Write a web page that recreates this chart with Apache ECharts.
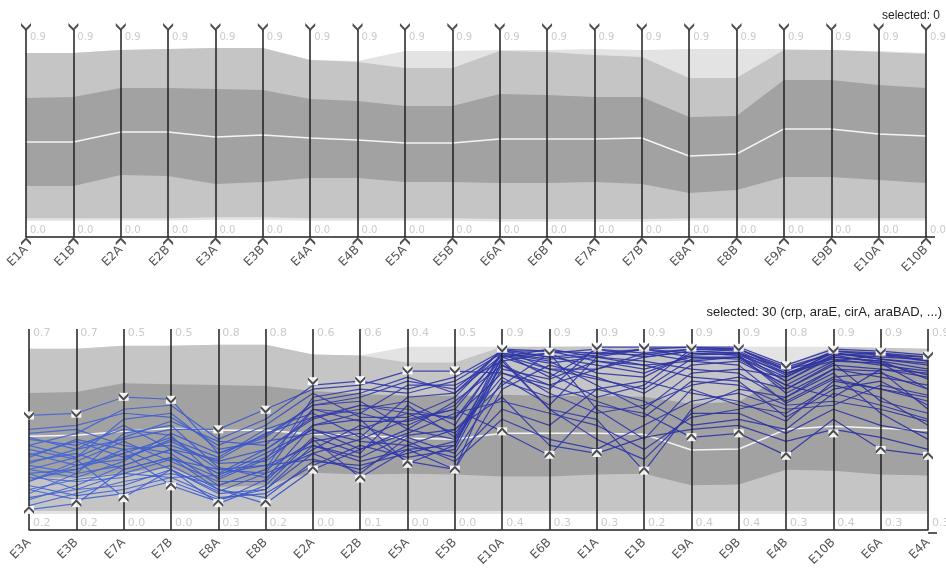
<!DOCTYPE html>
<html>
<head>
<meta charset="utf-8">
<title>Parallel coordinates - quantile bands</title>
<script src="https://cdn.jsdelivr.net/npm/echarts@6/dist/echarts.min.js"></script>
<style>
html, body { margin: 0; padding: 0; background: #fff; }
#chart { width: 946px; height: 569px; }
</style>
</head>
<body>
<div id="chart"></div>
<script>
// ---- top panel (nothing selected) ----
const topAxes = ['E1A', 'E1B', 'E2A', 'E2B', 'E3A', 'E3B', 'E4A', 'E4B', 'E5A', 'E5B',
  'E6A', 'E6B', 'E7A', 'E7B', 'E8A', 'E8B', 'E9A', 'E9B', 'E10A', 'E10B'];
const topMax = [0.889, 0.889, 0.903, 0.908, 0.913, 0.913, 0.855, 0.850, 0.899, 0.899,
  0.903, 0.903, 0.908, 0.903, 0.908, 0.908, 0.908, 0.903, 0.899, 0.889];
const topP90 = [0.889, 0.889, 0.903, 0.908, 0.913, 0.913, 0.855, 0.845, 0.816, 0.816,
  0.899, 0.894, 0.879, 0.870, 0.768, 0.768, 0.903, 0.903, 0.894, 0.884];
const topP75 = [0.671, 0.676, 0.720, 0.720, 0.715, 0.710, 0.667, 0.657, 0.633, 0.633,
  0.691, 0.686, 0.676, 0.676, 0.580, 0.585, 0.758, 0.758, 0.734, 0.720];
const topMedian = [0.459, 0.459, 0.507, 0.507, 0.483, 0.493, 0.478, 0.469, 0.454, 0.454,
  0.473, 0.473, 0.473, 0.478, 0.391, 0.401, 0.522, 0.522, 0.498, 0.488];
const topP25 = [0.246, 0.246, 0.300, 0.295, 0.256, 0.266, 0.285, 0.285, 0.266, 0.266,
  0.261, 0.261, 0.266, 0.256, 0.213, 0.227, 0.290, 0.290, 0.275, 0.261];
const topP10 = [0.090, 0.090, 0.090, 0.090, 0.095, 0.095, 0.090, 0.090, 0.090, 0.090,
  0.087, 0.087, 0.087, 0.087, 0.090, 0.090, 0.090, 0.090, 0.090, 0.090];
const topMin = [0.078, 0.078, 0.080, 0.080, 0.082, 0.082, 0.078, 0.078, 0.078, 0.078,
  0.075, 0.075, 0.075, 0.075, 0.078, 0.078, 0.078, 0.078, 0.078, 0.078];
const topHiLabels = ['0.9', '0.9', '0.9', '0.9', '0.9', '0.9', '0.9', '0.9', '0.9', '0.9',
  '0.9', '0.9', '0.9', '0.9', '0.9', '0.9', '0.9', '0.9', '0.9', '0.9'];
const topLoLabels = ['0.0', '0.0', '0.0', '0.0', '0.0', '0.0', '0.0', '0.0', '0.0', '0.0',
  '0.0', '0.0', '0.0', '0.0', '0.0', '0.0', '0.0', '0.0', '0.0', '0.0'];

// ---- bottom panel (30 selected) ----
const botAxes = ['E3A', 'E3B', 'E7A', 'E7B', 'E8A', 'E8B', 'E2A', 'E2B', 'E5A', 'E5B',
  'E10A', 'E6B', 'E1A', 'E1B', 'E9A', 'E9B', 'E4B', 'E10B', 'E6A', 'E4A'];
const botMax = [0.902, 0.902, 0.917, 0.917, 0.922, 0.922, 0.873, 0.868, 0.912, 0.912,
  0.912, 0.912, 0.917, 0.912, 0.912, 0.912, 0.912, 0.912, 0.907, 0.902];
const botP90 = [0.902, 0.902, 0.917, 0.917, 0.922, 0.922, 0.873, 0.868, 0.833, 0.833,
  0.912, 0.912, 0.912, 0.912, 0.912, 0.912, 0.819, 0.912, 0.907, 0.902];
const botP75 = [0.681, 0.686, 0.730, 0.725, 0.721, 0.716, 0.691, 0.676, 0.667, 0.667,
  0.672, 0.667, 0.667, 0.662, 0.627, 0.637, 0.775, 0.897, 0.887, 0.868];
const botMedian = [0.466, 0.471, 0.490, 0.505, 0.495, 0.495, 0.475, 0.471, 0.456, 0.451,
  0.480, 0.480, 0.480, 0.475, 0.397, 0.402, 0.500, 0.515, 0.505, 0.495];
const botP25 = [0.260, 0.260, 0.284, 0.309, 0.211, 0.221, 0.284, 0.275, 0.279, 0.275,
  0.265, 0.265, 0.275, 0.279, 0.221, 0.225, 0.299, 0.294, 0.275, 0.270];
const botP10 = [0.093, 0.093, 0.093, 0.093, 0.093, 0.093, 0.093, 0.093, 0.093, 0.093,
  0.093, 0.093, 0.093, 0.093, 0.093, 0.093, 0.093, 0.093, 0.093, 0.093];
const botMin = [0.078, 0.078, 0.078, 0.078, 0.078, 0.078, 0.078, 0.078, 0.078, 0.078,
  0.078, 0.078, 0.078, 0.078, 0.078, 0.078, 0.078, 0.078, 0.078, 0.078];
const brushHi = [0.569, 0.578, 0.662, 0.647, 0.500, 0.598, 0.740, 0.745, 0.794, 0.794,
  0.902, 0.887, 0.912, 0.912, 0.907, 0.907, 0.819, 0.897, 0.887, 0.868];
const brushLo = [0.098, 0.132, 0.157, 0.216, 0.132, 0.132, 0.299, 0.255, 0.328, 0.299,
  0.490, 0.373, 0.382, 0.294, 0.461, 0.480, 0.368, 0.480, 0.397, 0.368];
const botHiLabels = ['0.7', '0.7', '0.5', '0.5', '0.8', '0.8', '0.6', '0.6', '0.4', '0.5',
  '0.9', '0.9', '0.9', '0.9', '0.9', '0.9', '0.8', '0.9', '0.9', '0.9'];
const botLoLabels = ['0.2', '0.2', '0.0', '0.0', '0.3', '0.2', '0.0', '0.1', '0.0', '0.0',
  '0.4', '0.3', '0.3', '0.2', '0.4', '0.4', '0.3', '0.4', '0.3', '0.3'];

// selected profiles, one row per gene, columns in botAxes order
const selected = [
  [0.57, 0.58, 0.66, 0.65, 0.38, 0.47, 0.62, 0.66, 0.74, 0.70, 0.89, 0.86, 0.88, 0.87, 0.90, 0.90, 0.80, 0.88, 0.85, 0.82],
  [0.10, 0.13, 0.30, 0.36, 0.20, 0.13, 0.30, 0.40, 0.50, 0.45, 0.82, 0.72, 0.80, 0.86, 0.89, 0.88, 0.74, 0.87, 0.83, 0.70],
  [0.40, 0.35, 0.16, 0.30, 0.13, 0.22, 0.45, 0.26, 0.40, 0.30, 0.85, 0.60, 0.55, 0.29, 0.60, 0.70, 0.66, 0.80, 0.79, 0.60],
  [0.25, 0.30, 0.38, 0.22, 0.14, 0.25, 0.52, 0.55, 0.33, 0.42, 0.90, 0.89, 0.84, 0.80, 0.86, 0.85, 0.72, 0.84, 0.87, 0.84],
  [0.33, 0.40, 0.45, 0.50, 0.50, 0.60, 0.70, 0.72, 0.79, 0.79, 0.78, 0.70, 0.91, 0.91, 0.91, 0.91, 0.82, 0.90, 0.89, 0.87],
  [0.20, 0.25, 0.28, 0.35, 0.30, 0.28, 0.38, 0.45, 0.55, 0.60, 0.49, 0.37, 0.62, 0.58, 0.46, 0.48, 0.37, 0.55, 0.40, 0.37],
  [0.45, 0.42, 0.50, 0.47, 0.25, 0.35, 0.60, 0.58, 0.52, 0.62, 0.87, 0.80, 0.75, 0.70, 0.85, 0.86, 0.70, 0.82, 0.80, 0.78],
  [0.28, 0.20, 0.22, 0.30, 0.18, 0.20, 0.42, 0.36, 0.47, 0.50, 0.72, 0.88, 0.90, 0.88, 0.84, 0.82, 0.63, 0.75, 0.70, 0.64],
  [0.36, 0.45, 0.40, 0.42, 0.34, 0.40, 0.55, 0.62, 0.60, 0.55, 0.86, 0.78, 0.66, 0.72, 0.90, 0.89, 0.78, 0.86, 0.84, 0.75],
  [0.15, 0.22, 0.32, 0.40, 0.28, 0.32, 0.35, 0.30, 0.42, 0.36, 0.60, 0.52, 0.70, 0.64, 0.52, 0.55, 0.50, 0.68, 0.62, 0.55],
  [0.48, 0.50, 0.42, 0.38, 0.22, 0.30, 0.66, 0.70, 0.68, 0.74, 0.88, 0.84, 0.72, 0.60, 0.78, 0.80, 0.76, 0.89, 0.88, 0.86],
  [0.30, 0.36, 0.55, 0.58, 0.40, 0.44, 0.48, 0.50, 0.58, 0.48, 0.76, 0.62, 0.86, 0.90, 0.88, 0.87, 0.68, 0.80, 0.76, 0.72],
  [0.22, 0.17, 0.20, 0.26, 0.16, 0.18, 0.32, 0.42, 0.36, 0.40, 0.84, 0.88, 0.60, 0.45, 0.70, 0.62, 0.58, 0.72, 0.66, 0.52],
  [0.38, 0.32, 0.35, 0.45, 0.36, 0.50, 0.58, 0.46, 0.66, 0.68, 0.90, 0.86, 0.82, 0.78, 0.87, 0.88, 0.80, 0.85, 0.82, 0.79],
  [0.18, 0.28, 0.48, 0.52, 0.31, 0.26, 0.40, 0.52, 0.44, 0.34, 0.55, 0.45, 0.40, 0.52, 0.64, 0.68, 0.60, 0.62, 0.72, 0.67],
  [0.42, 0.48, 0.60, 0.62, 0.45, 0.55, 0.72, 0.74, 0.70, 0.76, 0.89, 0.89, 0.88, 0.90, 0.91, 0.90, 0.81, 0.88, 0.86, 0.85],
  [0.26, 0.24, 0.26, 0.32, 0.20, 0.16, 0.34, 0.32, 0.38, 0.44, 0.80, 0.75, 0.84, 0.82, 0.76, 0.74, 0.56, 0.70, 0.74, 0.62],
  [0.34, 0.38, 0.30, 0.36, 0.26, 0.36, 0.50, 0.40, 0.48, 0.58, 0.64, 0.58, 0.52, 0.40, 0.56, 0.60, 0.66, 0.78, 0.58, 0.45],
  [0.12, 0.18, 0.24, 0.28, 0.22, 0.30, 0.44, 0.48, 0.34, 0.30, 0.70, 0.82, 0.76, 0.68, 0.82, 0.84, 0.72, 0.66, 0.80, 0.76],
  [0.46, 0.40, 0.52, 0.40, 0.28, 0.40, 0.56, 0.60, 0.64, 0.52, 0.88, 0.76, 0.90, 0.86, 0.89, 0.88, 0.77, 0.88, 0.85, 0.83],
  [0.30, 0.26, 0.34, 0.48, 0.38, 0.46, 0.62, 0.64, 0.50, 0.64, 0.82, 0.68, 0.58, 0.62, 0.72, 0.76, 0.70, 0.83, 0.64, 0.58],
  [0.24, 0.34, 0.44, 0.34, 0.24, 0.24, 0.46, 0.38, 0.62, 0.46, 0.86, 0.90, 0.86, 0.84, 0.80, 0.78, 0.64, 0.76, 0.78, 0.70],
  [0.50, 0.52, 0.58, 0.56, 0.42, 0.52, 0.68, 0.56, 0.56, 0.66, 0.90, 0.80, 0.80, 0.88, 0.90, 0.90, 0.79, 0.89, 0.87, 0.86],
  [0.20, 0.15, 0.18, 0.24, 0.15, 0.20, 0.38, 0.28, 0.46, 0.38, 0.74, 0.66, 0.70, 0.74, 0.68, 0.64, 0.54, 0.74, 0.70, 0.66],
  [0.37, 0.44, 0.36, 0.44, 0.33, 0.34, 0.52, 0.58, 0.72, 0.72, 0.84, 0.60, 0.45, 0.35, 0.58, 0.58, 0.48, 0.60, 0.52, 0.48],
  [0.28, 0.30, 0.40, 0.30, 0.19, 0.28, 0.60, 0.54, 0.54, 0.60, 0.88, 0.85, 0.87, 0.90, 0.86, 0.86, 0.74, 0.86, 0.84, 0.80],
  [0.16, 0.20, 0.28, 0.26, 0.27, 0.38, 0.50, 0.44, 0.42, 0.50, 0.66, 0.42, 0.38, 0.46, 0.50, 0.52, 0.44, 0.50, 0.46, 0.40],
  [0.42, 0.36, 0.46, 0.54, 0.44, 0.42, 0.64, 0.68, 0.76, 0.68, 0.87, 0.83, 0.86, 0.82, 0.84, 0.86, 0.76, 0.87, 0.88, 0.84],
  [0.32, 0.28, 0.32, 0.40, 0.35, 0.48, 0.56, 0.62, 0.58, 0.56, 0.78, 0.72, 0.64, 0.56, 0.74, 0.72, 0.62, 0.64, 0.60, 0.54],
  [0.24, 0.32, 0.38, 0.46, 0.30, 0.32, 0.42, 0.34, 0.40, 0.42, 0.86, 0.88, 0.78, 0.76, 0.88, 0.87, 0.78, 0.84, 0.83, 0.77]
];

const chart = echarts.init(document.getElementById('chart'));

const CHEV_DOWN = 'path://M0,0 L5,5 L10,0 L10,2.8 L5,7.8 L0,2.8 Z';
const CHEV_UP = 'path://M0,7.8 L5,2.8 L10,7.8 L10,5 L5,0 L0,5 Z';

// filled band between two quantile rows
function band(g, lo, hi, color) {
  return {
    type: 'custom', xAxisIndex: g, yAxisIndex: g, z: 1, silent: true,
    data: [0],
    renderItem: function (params, api) {
      let pts = [];
      hi.forEach((v, i) => pts.push(api.coord([i, v])));
      for (let i = lo.length - 1; i >= 0; i--) pts.push(api.coord([i, lo[i]]));
      return { type: 'polygon', shape: { points: pts }, style: { fill: color } };
    }
  };
}

function median(g, vals) {
  return {
    type: 'line', xAxisIndex: g, yAxisIndex: g, data: vals, z: 1.5, silent: true,
    symbol: 'none', lineStyle: { color: '#f4f4f4', width: 1.5 }
  };
}

function labels(g, y, texts, size) {
  return {
    type: 'scatter', xAxisIndex: g, yAxisIndex: g, z: 5, silent: true, clip: false,
    symbolSize: 0,
    data: texts.map((t, i) => [i, y]),
    label: {
      show: true, position: 'right', distance: 4,
      color: '#bdbdbd', fontSize: size, fontFamily: 'DejaVu Sans',
      formatter: p => texts[p.dataIndex]
    }
  };
}

function markers(g, vals, sym, boxed) {
  let out = [];
  if (boxed) {
    out.push({
      type: 'scatter', xAxisIndex: g, yAxisIndex: g, z: 4, silent: true, clip: false,
      symbol: 'rect', symbolSize: [10, 8],
      itemStyle: { color: '#ffffff', opacity: 0.9 },
      data: vals.map((v, i) => [i, v])
    });
  }
  out.push({
    type: 'scatter', xAxisIndex: g, yAxisIndex: g, z: 5, silent: true, clip: false,
    symbol: sym, symbolSize: [10, 8],
    itemStyle: { color: '#222' },
    data: vals.map((v, i) => [i, v])
  });
  return out;
}

function xAxisFor(g, names) {
  return {
    gridIndex: g, type: 'category', data: names, boundaryGap: false, z: 3,
    axisLine: { lineStyle: { color: '#222', width: 1.5 } },
    axisTick: { show: false },
    axisLabel: {
      interval: 0, rotate: 45, margin: 11,
      color: '#555', fontSize: 12, fontFamily: 'DejaVu Sans'
    },
    splitLine: { show: true, interval: 0, lineStyle: { color: '#1e1e1e', width: 1.5 } }
  };
}

const lineGrad = new echarts.graphic.LinearGradient(29, 0, 928, 0, [
  { offset: 0, color: '#4466d6' },
  { offset: 0.26, color: '#3b57c9' },
  { offset: 0.32, color: '#3039aa' },
  { offset: 1, color: '#2c309f' }
], true);

const series = [
  band(0, topMin, topMax, '#e3e3e3'),
  band(0, topP10, topP90, '#c5c5c5'),
  band(0, topP25, topP75, '#a2a2a2'),
  median(0, topMedian),
  labels(0, 0.966, topHiLabels, 10),
  labels(0, 0.03, topLoLabels, 10),
  ...markers(0, topAxes.map(() => 1.014), CHEV_DOWN, false),
  ...markers(0, topAxes.map(() => -0.02), CHEV_UP, false),

  band(1, botMin, botMax, '#e3e3e3'),
  band(1, botP10, botP90, '#c5c5c5'),
  band(1, botP25, botP75, '#a2a2a2'),
  median(1, botMedian),
  labels(1, 0.98, botHiLabels, 11),
  labels(1, 0.03, botLoLabels, 11),
  ...selected.map(row => ({
    type: 'line', xAxisIndex: 1, yAxisIndex: 1, data: row, z: 2, silent: true,
    symbol: 'none', lineStyle: { color: lineGrad, width: 1.2, opacity: 0.9 }
  })),
  ...markers(1, brushHi, CHEV_DOWN, true),
  ...markers(1, brushLo, CHEV_UP, true)
];

chart.setOption({
  animation: false,
  grid: [
    { left: 26, right: 20, top: 30, bottom: 332 },
    { left: 29, right: 18, top: 329, bottom: 36 }
  ],
  xAxis: [xAxisFor(0, topAxes), xAxisFor(1, botAxes)],
  yAxis: [
    { gridIndex: 0, type: 'value', min: 0, max: 1, show: false },
    { gridIndex: 1, type: 'value', min: 0, max: 1, show: false }
  ],
  graphic: [
    { type: 'text', right: 6, top: 10,
      style: { text: 'selected: 0', font: '12px "Liberation Sans"', fill: '#222' } },
    { type: 'text', right: 4, top: 306,
      style: { text: 'selected: 30 (crp, araE, cirA, araBAD, ...)', font: '13px "Liberation Sans"', fill: '#222' } },
    // axis baselines run a few pixels past the last axis
    { type: 'line', shape: { x1: 926, y1: 237, x2: 935, y2: 237 },
      style: { stroke: '#222', lineWidth: 1.5 } },
    { type: 'line', shape: { x1: 928, y1: 533, x2: 937, y2: 533 },
      style: { stroke: '#222', lineWidth: 1.5 } }
  ],
  series: series
});
</script>
</body>
</html>
